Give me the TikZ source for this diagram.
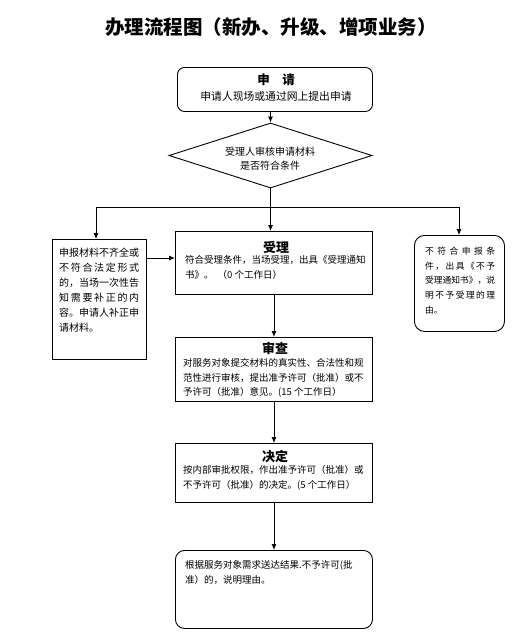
\documentclass[tikz,border=0pt]{standalone}
\usepackage{fontspec}
\setmainfont{Noto Sans CJK SC}
\usetikzlibrary{shapes.geometric,arrows.meta}
\begin{document}
\begin{tikzpicture}[x=1pt,y=-1pt,
  box/.style={draw=black,line width=0.9pt,inner sep=0pt,anchor=north west},
  rbox/.style={box,rounded corners=7pt},
  arr/.style={draw=black,line width=0.8pt,-{Latex[length=6pt,width=5pt]}},
  ln/.style={draw=black,line width=0.8pt},
  body/.style={inner sep=0pt,align=left,anchor=north west,font=\fontsize{9.5}{14.5}\selectfont},
  head/.style={inner sep=0pt,font=\bfseries\fontsize{13}{13}\selectfont}]
\useasboundingbox (0,0) rectangle (531,635);
\fill[white] (0,0) rectangle (531,635);

\node[inner sep=0pt,font=\bfseries\fontsize{19.5}{20}\selectfont] (title) at (271,27) {办理流程图（新办、升级、增项业务）};

% apply
\node[rbox,minimum width=195,minimum height=44] (apply) at (177,67) {};
\node[head,font=\bfseries\fontsize{12.5}{13}\selectfont] (applyH) at (276,80) {申\quad 请};
\node[inner sep=0pt,font=\fontsize{10.8}{13}\selectfont] (applyT) at (276,96) {申请人现场或通过网上提出申请};

% check
\node[draw,diamond,line width=0.9pt,minimum width=203,minimum height=65,inner sep=0pt] (check) at (270.5,155.5) {};
\node[inner sep=0pt,align=center,font=\fontsize{10}{14}\selectfont] (checkT) at (270,159) {受理人审核申请材料\\是否符合条件};

% left
\node[box,minimum width=94,minimum height=120] (left) at (52,239) {};
\node[body,font=\fontsize{10}{15}\selectfont] (leftT) at (59,247.5) {申报材料不齐全或\\
\makebox[80pt][s]{不\hfill 符\hfill 合\hfill 法\hfill 定\hfill 形\hfill 式}\\
的，当场一次性告\\
\makebox[80pt][s]{知\hfill 需\hfill 要\hfill 补\hfill 正\hfill 的\hfill 内}\\
容。申请人补正申\\
请材料。};

% accept
\node[box,minimum width=197,minimum height=63] (accept) at (175,231) {};
\node[head] (acceptH) at (276,247) {受理};
\node[body] (acceptT) at (185,255.5) {符合受理条件，当场受理，出具《受理通知\\书》。\hspace{4pt}（0 个工作日）};

% right
\node[rbox,rounded corners=10pt,minimum width=90,minimum height=96] (right) at (414,235) {};
\node[body,font=\fontsize{8.75}{14.7}\selectfont] (rightT) at (425,247) {\makebox[70pt][s]{不\hfill 符\hfill 合\hfill 申\hfill 报\hfill 条}\\
\makebox[70pt][s]{件\hfill ，\hfill 出\hfill 具\hfill 《\hfill 不\hfill 予}\\
受理通知书》，说\\
\makebox[70pt][s]{明\hfill 不\hfill 予\hfill 受\hfill 理\hfill 的\hfill 理}\\
由。};

% review
\node[box,minimum width=197,minimum height=64] (review) at (175,337) {};
\node[head] (reviewH) at (275,348) {审查};
\node[body] (reviewT) at (183,358.5) {对服务对象提交材料的真实性、合法性和规\\范性进行审核，提出准予许可（批准）或不\\予许可（批准）意见。(15 个工作日）};

% decide
\node[box,minimum width=197,minimum height=59] (decide) at (175,443) {};
\node[head] (decideH) at (275,456) {决定};
\node[body] (decideT) at (183,465.5) {按内部审批权限，作出准予许可（批准）或\\不予许可（批准）的决定。(5 个工作日）};

% final
\node[rbox,rounded corners=9pt,minimum width=197,minimum height=78] (final) at (175,550) {};
\node[body] (finalT) at (185,560.5) {根据服务对象需求送达结果.不予许可(批\\准）的，说明理由。};

% connectors
\coordinate (j) at (270.5,207);
\coordinate (jl) at (96,207);
\coordinate (jr) at (459,207);
\draw[arr] (check.north |- apply.south) -- (check.north);
\draw[ln] (check.south) -- (j);
\draw[arr] (j) -- (j |- accept.north);
\draw[arr] (j) -- (jl) -- (jl |- left.north);
\draw[arr] (j) -- (jr) -- (jr |- right.north);
\draw[arr] ([yshift=-19pt]left.north east) -- ([yshift=-19pt]left.north east -| accept.west);
\draw[arr] (accept.south) -- (review.north);
\draw[arr] (review.south) -- (decide.north);
\draw[arr] (decide.south) -- (final.north);
\end{tikzpicture}
\end{document}
